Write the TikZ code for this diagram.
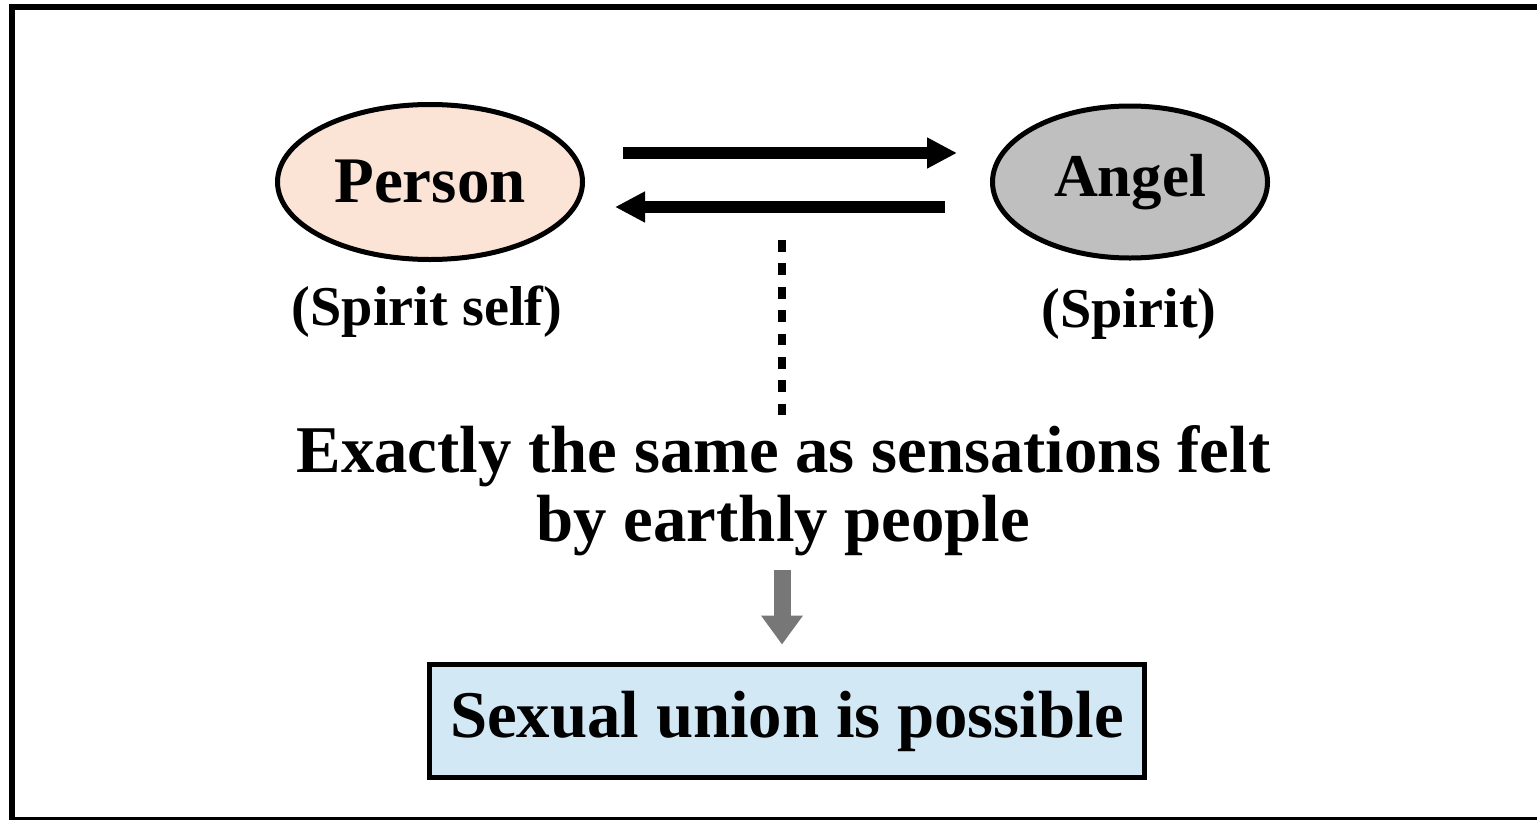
\documentclass[tikz,border=0pt]{standalone}
\usepackage{fontspec}
\setmainfont{Liberation Serif}
\usetikzlibrary{shapes.geometric,arrows.meta}

\definecolor{personfill}{HTML}{FBE4D6}
\definecolor{angelfill}{HTML}{BFBFBF}
\definecolor{resultfill}{HTML}{D3E8F5}
\definecolor{arrowgray}{HTML}{777777}

\tikzset{
    spirit/.style={ellipse,draw,line width=0.05cm,inner sep=0pt,
        font=\fontsize{18.5}{20}\selectfont\bfseries},
    sublabel/.style={anchor=base,font=\fontsize{16}{18}\selectfont\bfseries},
    bigarrow/.style={line width=0.125cm,-{Triangle[width=0.29cm,length=0.30cm]}},
    dotline/.style={line width=0.075cm,dash pattern=on 0.117cm off 0.117cm},
    grayarrow/.style={arrowgray,line width=0.17cm,-{Triangle[width=0.40cm,length=0.29cm]}},
    resultbox/.style={draw,fill=resultfill,line width=0.05cm,inner sep=0pt,
        minimum width=7.15cm,minimum height=1.13cm,
        font=\fontsize{19}{21}\selectfont\bfseries}
}

\begin{document}
\begin{tikzpicture}
    \useasboundingbox (0,0) rectangle (15.37,8.19);
    % frame, right side runs off the page
    \draw[line width=0.06cm] (16.5,-0.01) -| (0.12,8.115) -- (16.5,8.115);

    % the two spirits
    \node[spirit,fill=personfill,minimum width=3.05cm,minimum height=1.55cm] (person) at (4.30,6.37) {Person};
    \node[spirit,fill=angelfill,minimum width=2.75cm,minimum height=1.52cm,
        font=\fontsize{17.3}{19}\selectfont\bfseries] (angel) at (11.30,6.37) {Angel};

    \node[sublabel] (personlbl) at (4.27,4.94) {(Spirit self)};
    \node[sublabel] (angellbl) at (11.29,4.92) {(Spirit)};

    \draw[bigarrow,shorten <=0.38cm,shorten >=0.33cm] ([yshift=0.29cm]person.east) -- ([yshift=0.29cm]angel.west);
    \draw[bigarrow,shorten <=0.45cm,shorten >=0.30cm] ([yshift=-0.25cm]angel.west) -- ([yshift=-0.25cm]person.east);

    % dotted link down to the text
    \coordinate (dtop) at (7.82,5.79);
    \coordinate (dbot) at (7.82,4.04);
    \draw[dotline] (dtop) -- (dbot);

    \node[align=center,inner sep=0pt,font=\fontsize{19}{19.6}\selectfont\bfseries] (sensed) at (7.835,3.28)
        {Exactly the same as sensations felt\\by earthly people};

    % result
    \node[resultbox] (result) at (7.87,0.98) {Sexual union is possible};
    \draw[grayarrow,shorten >=0.175cm] ([xshift=-0.05cm,yshift=0.925cm]result.north) -- ([xshift=-0.05cm]result.north);
\end{tikzpicture}
\end{document}
